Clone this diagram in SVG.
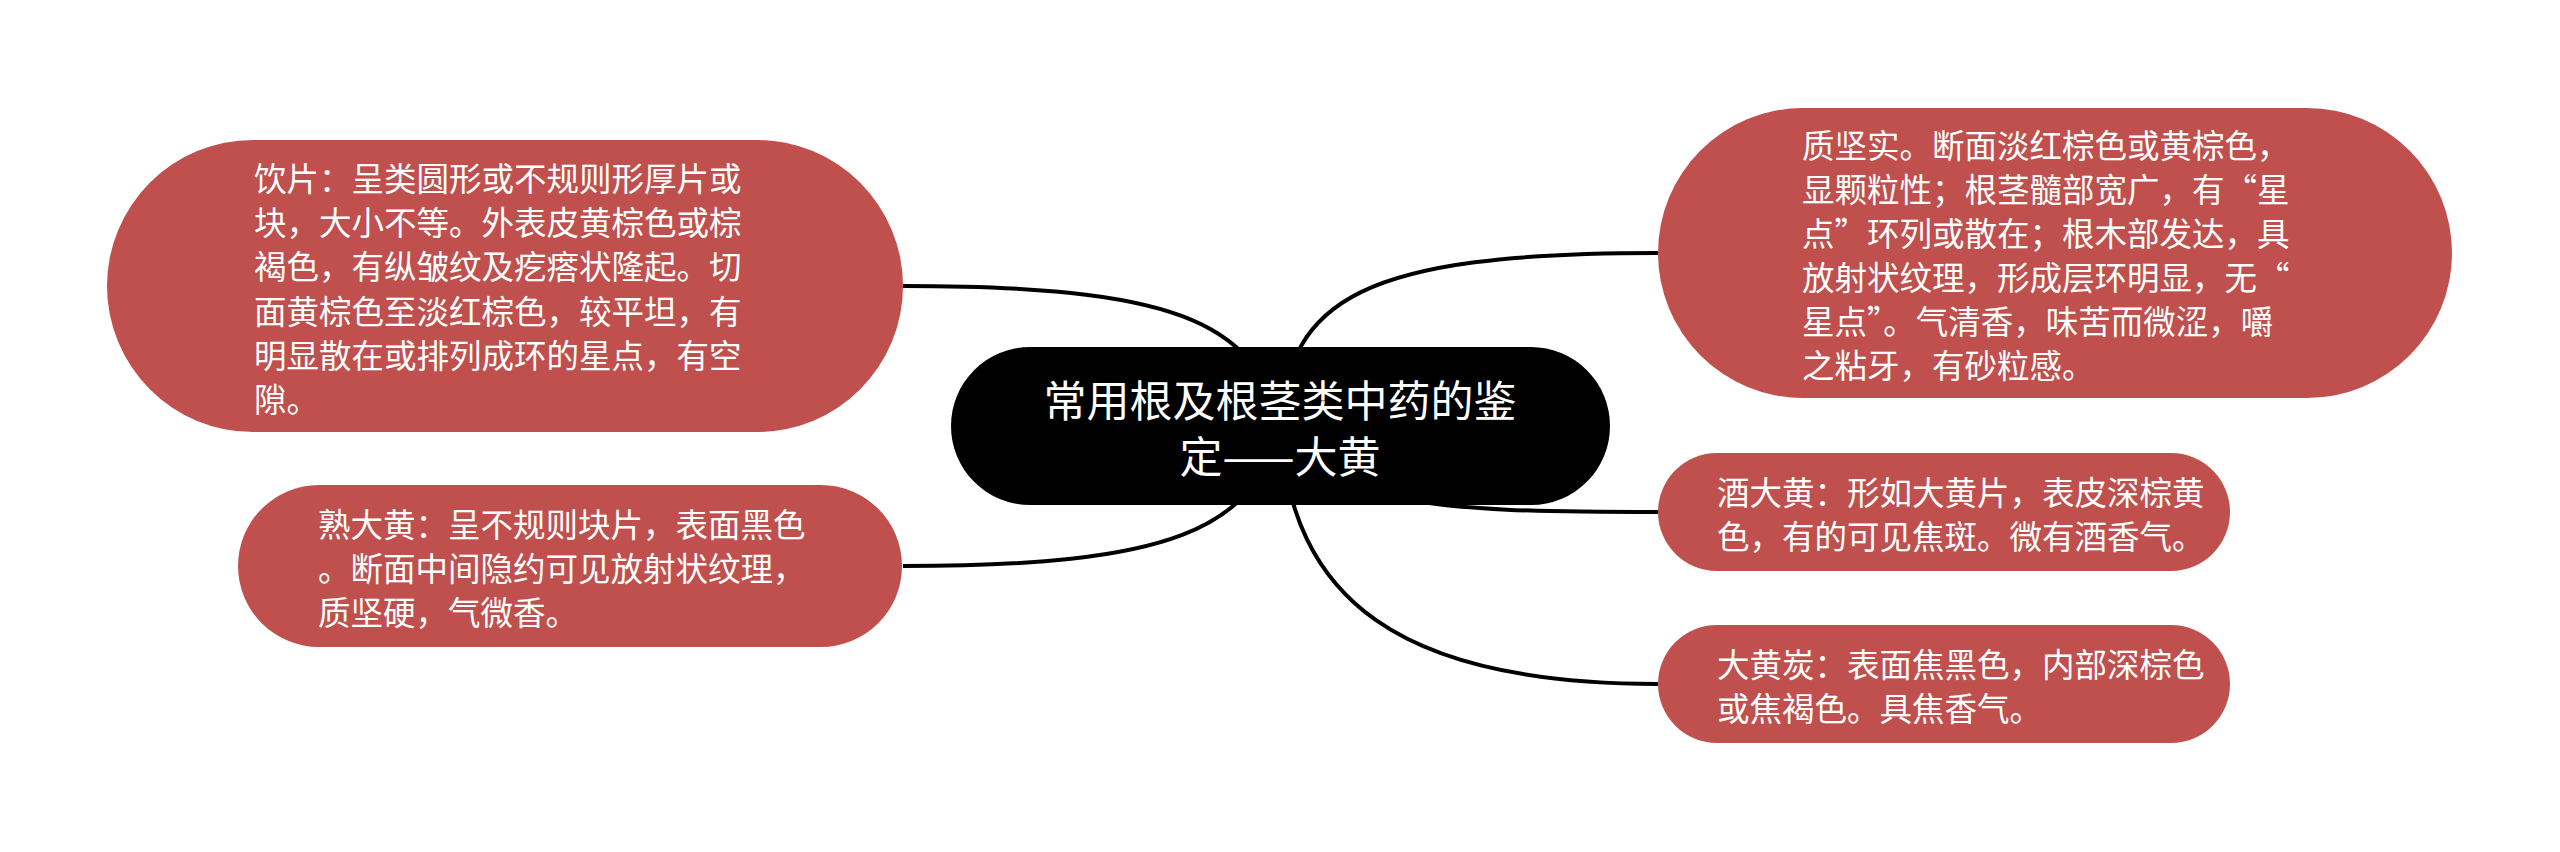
<svg xmlns="http://www.w3.org/2000/svg" width="2560" height="852" viewBox="0 0 2560 852">
<style>
.bg{fill:#ffffff}
.node{fill:#C0504D}
.root{fill:#000000}
.t{font-family:"Noto Sans CJK SC","Noto Sans",sans-serif;font-size:32.5px;fill:#ffffff;dominant-baseline:central}
.rt{font-family:"Noto Sans CJK SC","Noto Sans",sans-serif;font-size:43px;fill:#ffffff;dominant-baseline:central;text-anchor:middle}
.edge{fill:none;stroke:#000000;stroke-width:4}
</style>
<rect class="bg" x="0" y="0" width="2560" height="852"/>
<g id="connectors">
<path class="edge" d="M1280,425 C1255,320 1170,286 903,286"/>
<path class="edge" d="M1280,425 C1255,530 1170,566 903,566"/>
<path class="edge" d="M1280,425 C1290,300 1360,253 1658,253"/>
<path class="edge" d="M1280,425 C1340,505 1420,512 1658,512"/>
<path class="edge" d="M1280,425 C1290,600 1400,684 1658,684"/>
</g>
<g id="node-yinpian">
<rect class="node" x="107" y="140" width="796" height="292" rx="146" ry="146"/>
<text class="t" x="254" y="176">饮片：呈类圆形或不规则形厚片或</text>
<text class="t" x="254" y="220">块，大小不等。外表皮黄棕色或棕</text>
<text class="t" x="254" y="264">褐色，有纵皱纹及疙瘩状隆起。切</text>
<text class="t" x="254" y="309">面黄棕色至淡红棕色，较平坦，有</text>
<text class="t" x="254" y="353">明显散在或排列成环的星点，有空</text>
<text class="t" x="254" y="397">隙。</text>
</g>
<g id="node-shudahuang">
<rect class="node" x="238" y="485" width="664" height="162" rx="81" ry="81"/>
<text class="t" x="318" y="522">熟大黄：呈不规则块片，表面黑色</text>
<text class="t" x="318" y="566">。断面中间隐约可见放射状纹理，</text>
<text class="t" x="318" y="610">质坚硬，气微香。</text>
</g>
<g id="node-root">
<rect class="root" x="951" y="347" width="659" height="158" rx="79" ry="79"/>
<text class="rt" x="1280" y="398">常用根及根茎类中药的鉴</text>
<text class="rt" x="1280" y="454">定——大黄</text>
</g>
<g id="node-zhijianshi">
<rect class="node" x="1658" y="108" width="794" height="290" rx="145" ry="145"/>
<text class="t" x="1802" y="143">质坚实。断面淡红棕色或黄棕色，</text>
<text class="t" x="1802" y="187">显颗粒性；根茎髓部宽广，有“星</text>
<text class="t" x="1802" y="231">点”环列或散在；根木部发达，具</text>
<text class="t" x="1802" y="275">放射状纹理，形成层环明显，无“</text>
<text class="t" x="1802" y="319">星点”。气清香，味苦而微涩，嚼</text>
<text class="t" x="1802" y="363">之粘牙，有砂粒感。</text>
</g>
<g id="node-jiudahuang">
<rect class="node" x="1658" y="453" width="572" height="118" rx="59" ry="59"/>
<text class="t" x="1717" y="490">酒大黄：形如大黄片，表皮深棕黄</text>
<text class="t" x="1717" y="534">色，有的可见焦斑。微有酒香气。</text>
</g>
<g id="node-dahuangtan">
<rect class="node" x="1658" y="625" width="572" height="118" rx="59" ry="59"/>
<text class="t" x="1717" y="662">大黄炭：表面焦黑色，内部深棕色</text>
<text class="t" x="1717" y="706">或焦褐色。具焦香气。</text>
</g>
</svg>
